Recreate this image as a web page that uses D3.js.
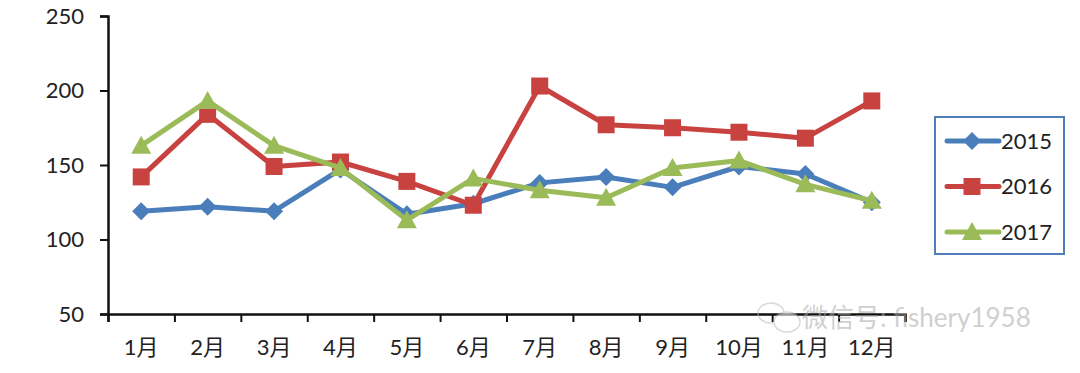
<html>
<meta charset='utf-8'>
<head>
    <script src="https://d3js.org/d3.v7.min.js"></script>
    <style>
      body { margin: 0; background: #fff; }
      text { font-family: Lato, 'Noto Sans CJK SC', sans-serif; }
    </style>
</head>
<body>
<div id='viz'></div>
<script>
    // data
    let months = ['1月','2月','3月','4月','5月','6月','7月','8月','9月','10月','11月','12月'];
    let years = ['2015', '2016', '2017'];
    let v2015 = [119, 122, 119, 147, 117, 124, 138, 142, 135, 149, 144, 125];
    let v2016 = [142, 184, 149, 152, 139, 123, 203, 177, 175, 172, 168, 193];
    let v2017 = [163, 193, 163, 148, 113, 141, 133, 128, 148, 153, 137, 126];
    let yTicks = [50, 100, 150, 200, 250];

    let colors = ['#4a7ebb', '#c8423f', '#9bbb59'];
    let shapes = ['diamond', 'square', 'triangle'];
    let series = [v2015, v2016, v2017];

    function markerPath(shape) {
      if (shape == 'diamond') return 'M0,-9L9,0L0,9L-9,0Z';
      if (shape == 'square') return 'M-8.5,-8.5H8.5V8.5H-8.5Z';
      return 'M0,-10L10,8H-10Z';
    }

    let svg = d3.select('#viz').append('svg')
                .attr('width', 1080)
                .attr('height', 373);

    let x = d3.scaleBand().domain(months).range([108, 905]);
    let xb = d3.scaleLinear().domain([0, 12]).range([108, 905]);
    let y = d3.scaleLinear().domain([50, 250]).range([314, 16]);

    // y axis
    let yAxis = svg.append('g')
        .attr('transform', 'translate(108,0)')
        .call(d3.axisLeft(y).tickValues(yTicks).tickSize(8).tickPadding(16));
    yAxis.selectAll('line').attr('stroke', '#111').attr('stroke-width', 2);
    yAxis.select('.domain').attr('stroke', '#111').attr('stroke-width', 2.5);
    yAxis.selectAll('text').attr('font-size', '22px').attr('fill', '#222');

    // x axis: labels at centres, ticks at boundaries
    let xAxis = svg.append('g')
        .attr('transform', 'translate(0,314)')
        .call(d3.axisBottom(x).tickSize(0).tickPadding(25));
    xAxis.select('.domain').remove();
    xAxis.selectAll('text').attr('font-size', '22px').attr('fill', '#222');

    let xTicks = svg.append('g')
        .attr('transform', 'translate(0,314)')
        .call(d3.axisBottom(xb).ticks(12).tickSize(8).tickFormat(''));
    xTicks.selectAll('line').attr('stroke', '#111').attr('stroke-width', 2);
    xTicks.select('.domain').attr('stroke', '#111').attr('stroke-width', 2.5);

    // watermark
    let wm = svg.append('g').attr('opacity', 0.55);
    wm.append('ellipse').attr('cx', 771).attr('cy', 313).attr('rx', 13).attr('ry', 10)
      .attr('fill', 'none').attr('stroke', '#bbb').attr('stroke-width', 1.5);
    wm.append('ellipse').attr('cx', 787).attr('cy', 322).attr('rx', 13).attr('ry', 10)
      .attr('fill', '#fff').attr('stroke', '#bbb').attr('stroke-width', 1.5);
    wm.append('text').attr('x', 802).attr('y', 327)
      .attr('font-size', '26px').attr('fill', '#aaa')
      .attr('font-family', "'Noto Sans CJK SC', sans-serif")
      .text('微信号: fishery1958');

    // lines + markers
    let line = d3.line()
        .x((d, i) => x(months[i]) + x.bandwidth() / 2)
        .y(d => y(d));

    series.forEach((vals, s) => {
      svg.append('path')
        .attr('d', line(vals))
        .attr('fill', 'none')
        .attr('stroke', colors[s])
        .attr('stroke-width', 5)
        .attr('stroke-linejoin', 'round');

      svg.selectAll('.m' + s)
        .data(vals)
        .enter().append('path')
        .attr('class', 'm' + s)
        .attr('d', markerPath(shapes[s]))
        .attr('transform', (d, i) => 'translate(' + (x(months[i]) + x.bandwidth() / 2) + ',' + y(d) + ')')
        .attr('fill', colors[s]);
    });

    // legend
    let legend = svg.append('g');
    legend.append('rect')
      .attr('x', 935).attr('y', 117).attr('width', 129).attr('height', 137)
      .attr('fill', '#fff').attr('stroke', '#4f7fba').attr('stroke-width', 2);

    years.forEach((yr, s) => {
      let ly = 141 + s * 45.5;
      legend.append('line')
        .attr('x1', 947).attr('x2', 999).attr('y1', ly).attr('y2', ly)
        .attr('stroke', colors[s]).attr('stroke-width', 5).attr('stroke-linecap', 'round');
      legend.append('path')
        .attr('d', markerPath(shapes[s]))
        .attr('transform', 'translate(972,' + ly + ')')
        .attr('fill', colors[s]);
      legend.append('text')
        .attr('x', 1001).attr('y', ly)
        .attr('dy', '0.35em')
        .attr('font-size', '22px')
        .attr('fill', '#222')
        .text(yr);
    });
</script>
</body>
</html>
